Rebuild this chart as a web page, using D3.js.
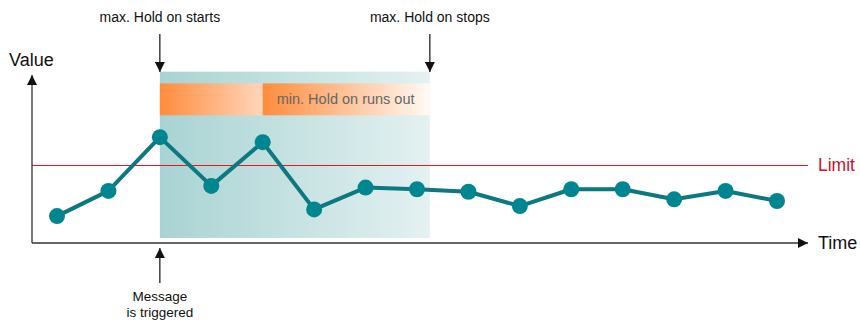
<!DOCTYPE html>
<html lang="en">
<head>
<meta charset="UTF-8">
<title>Hold on</title>
<script src="https://d3js.org/d3.v7.min.js"></script>
<style>
  body { margin: 0; background: #fff; }
  text { font-family: "Liberation Sans", Arial, sans-serif; }
</style>
</head>
<body>
<svg id="chart" width="860" height="320"></svg>
<script>
// measured values (arbitrary units, 0..10)
var steps = [0, 1, 2, 3, 4, 5, 6, 7, 8, 9, 10, 11, 12, 13, 14];
var values = [1.6, 3.1, 6.3, 3.4, 6.0, 2.0, 3.3, 3.2, 3.05, 2.2, 3.2, 3.2, 2.6, 3.1, 2.5];
var limit = 4.64;
var holdStart = 2, minHoldEnd = 4, holdStop = 7.25;   // in steps
var bandTop = 10.2, bandBottom = 0.3;
var orangeTop = 9.5, orangeBottom = 7.6;

var svg = d3.select("#chart");

var x = d3.scaleLinear().domain([0, 14]).range([57, 777]);
var y = d3.scaleLinear().domain([0, 10]).range([243, 75]);

var defs = svg.append("defs");
function grad(id, c0, c1) {
    var g = defs.append("linearGradient").attr("id", id)
        .attr("x1", "0%").attr("x2", "100%").attr("y1", "0%").attr("y2", "0%");
    g.append("stop").attr("offset", "0%").attr("stop-color", c0);
    g.append("stop").attr("offset", "100%").attr("stop-color", c1);
}
grad("tealGrad", "#a9d3d3", "#e4f1f1");
grad("orange1", "#ff8c3c", "#ffd6bb");
grad("orange2", "#ff8c3c", "#fffaf6");

defs.append("marker")
    .attr("id", "arrow")
    .attr("viewBox", "0 0 10 10")
    .attr("refX", 10).attr("refY", 5)
    .attr("markerWidth", 10).attr("markerHeight", 10)
    .attr("markerUnits", "userSpaceOnUse")
    .attr("orient", "auto")
    .append("path").attr("d", "M0,0 L10,5 L0,10 z").attr("fill", "#111");

// max. hold on band
svg.append("rect")
    .attr("x", x(holdStart)).attr("y", y(bandTop))
    .attr("width", x(holdStop) - x(holdStart))
    .attr("height", y(bandBottom) - y(bandTop))
    .attr("fill", "url(#tealGrad)");

// min. hold on bars
svg.append("rect")
    .attr("x", x(holdStart)).attr("y", y(orangeTop))
    .attr("width", x(minHoldEnd) - x(holdStart))
    .attr("height", y(orangeBottom) - y(orangeTop))
    .attr("fill", "url(#orange1)");
svg.append("rect")
    .attr("x", x(minHoldEnd)).attr("y", y(orangeTop))
    .attr("width", x(holdStop) - x(minHoldEnd))
    .attr("height", y(orangeBottom) - y(orangeTop))
    .attr("fill", "url(#orange2)");
svg.append("text")
    .attr("x", x(minHoldEnd) + 14).attr("y", y((orangeTop + orangeBottom) / 2))
    .attr("dy", "0.35em")
    .attr("font-size", 14.5).attr("fill", "#666")
    .text("min. Hold on runs out");

// limit line
var ly = Math.round(y(limit)) + 0.5;
svg.append("line")
    .attr("x1", 32).attr("x2", 808)
    .attr("y1", ly).attr("y2", ly)
    .attr("stroke", "#e8191e").attr("stroke-width", 1);
svg.append("text")
    .attr("x", 818).attr("y", y(limit)).attr("dy", "0.35em")
    .attr("font-size", 17.5).attr("fill", "#c8102e")
    .text("Limit");

// axes
svg.append("line")
    .attr("x1", 32).attr("y1", y(0)).attr("x2", 32).attr("y2", 75)
    .attr("stroke", "#333").attr("stroke-width", 1.3)
    .attr("marker-end", "url(#arrow)");
svg.append("line")
    .attr("x1", 32).attr("y1", y(0)).attr("x2", 808).attr("y2", y(0))
    .attr("stroke", "#333").attr("stroke-width", 1.3)
    .attr("marker-end", "url(#arrow)");
svg.append("text").attr("x", 9).attr("y", 60).attr("dy", "0.35em")
    .attr("font-size", 18).attr("fill", "#111").text("Value");
svg.append("text").attr("x", 818).attr("y", y(0)).attr("dy", "0.35em")
    .attr("font-size", 18).attr("fill", "#111").text("Time");

// series
var data = steps.map(function (s, i) { return { t: s, v: values[i] }; });
var line = d3.line()
    .x(function (d) { return x(d.t); })
    .y(function (d) { return y(d.v); });
svg.append("path")
    .datum(data)
    .attr("d", line)
    .attr("fill", "none")
    .attr("stroke", "#0c7880")
    .attr("stroke-width", 4)
    .attr("stroke-linejoin", "round");
svg.selectAll("circle.pt")
    .data(data)
    .enter()
    .append("circle")
    .attr("class", "pt")
    .attr("cx", function (d) { return x(d.t); })
    .attr("cy", function (d) { return y(d.v); })
    .attr("r", 8)
    .attr("fill", "#008690");

// annotations
function arrowDown(xp, label) {
    svg.append("line")
        .attr("x1", xp).attr("x2", xp).attr("y1", 34).attr("y2", 72)
        .attr("stroke", "#111").attr("stroke-width", 1.2)
        .attr("marker-end", "url(#arrow)");
    svg.append("text")
        .attr("x", xp).attr("y", 17).attr("dy", "0.35em")
        .attr("text-anchor", "middle").attr("font-size", 14).attr("fill", "#111")
        .text(label);
}
arrowDown(x(holdStart), "max. Hold on starts");
arrowDown(x(holdStop), "max. Hold on stops");

svg.append("line")
    .attr("x1", x(holdStart)).attr("x2", x(holdStart)).attr("y1", 283).attr("y2", 248)
    .attr("stroke", "#111").attr("stroke-width", 1.2)
    .attr("marker-end", "url(#arrow)");
svg.append("text")
    .attr("x", x(holdStart)).attr("y", 296).attr("dy", "0.35em")
    .attr("text-anchor", "middle").attr("font-size", 13.5).attr("fill", "#111")
    .text("Message");
svg.append("text")
    .attr("x", x(holdStart)).attr("y", 312).attr("dy", "0.35em")
    .attr("text-anchor", "middle").attr("font-size", 13.5).attr("fill", "#111")
    .text("is triggered");
</script>
</body>
</html>
